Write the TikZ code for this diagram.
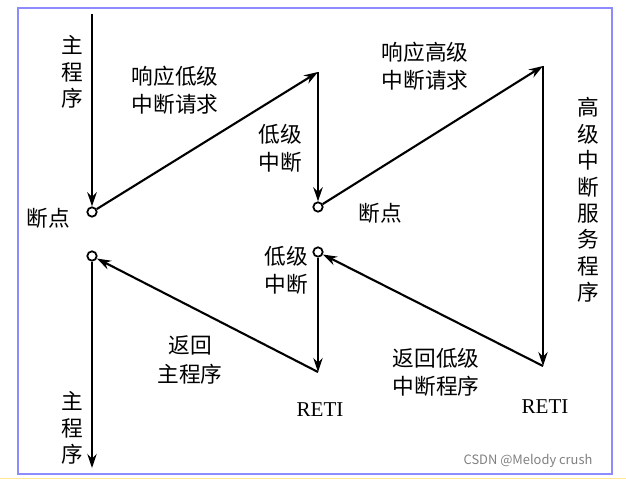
\documentclass[tikz,border=0pt]{standalone}
\usepackage{fontspec}
\setmainfont{Liberation Serif}
\newfontfamily\cjk{Noto Sans CJK SC}
\usetikzlibrary{arrows.meta}

\begin{document}
\begin{tikzpicture}[
    x=0.03cm, y=-0.03cm,
    flow/.style={line width=1.8pt, -{Stealth[length=12pt, width=8pt]}},
    bp/.style={circle, draw, line width=1.5pt, fill=white, inner sep=0pt, minimum size=8pt},
    lbl/.style={font=\cjk\fontsize{18.5}{24}\selectfont, align=center},
    vlbl/.style={font=\cjk\fontsize{18.5}{22.5}\selectfont, align=center}
]
\useasboundingbox (0,0) rectangle (626,481);
\draw[blue!45, line width=1.2pt] (18,8) rectangle (612,474);
\draw[yellow!60!orange!40, line width=0.8pt] (0,478) -- (626,478);

% breakpoints and corners
\node[bp] (b1) at (92,212) {};
\node[bp] (b2) at (92,256) {};
\node[bp] (b3) at (318,207) {};
\node[bp] (b4) at (318,252) {};
\coordinate (top) at (92,14);
\coordinate (c1) at (318,72);
\coordinate (c2) at (543,66);
\coordinate (c3) at (543,366);
\coordinate (c4) at (318,372);
\coordinate (bot) at (92,468);

% Arrows
\draw[flow] (top) -- (b1);
\draw[flow] (b1) -- (c1);
\draw[flow] (c1) -- (b3);
\draw[flow] (b3) -- (c2);
\draw[flow] (c2) -- (c3);
\draw[flow] (c3) -- (b4);
\draw[flow] (b4) -- (c4);
\draw[flow] (c4) -- (b2);
\draw[flow] (b2) -- (bot);

% Labels
\node[vlbl] (lmain1) at (72,72) {主\\程\\序};
\node[vlbl] (lmain2) at (72,428) {主\\程\\序};
\node[lbl] (lreq1) at (175,90) {响应低级\\中断请求};
\node[lbl] (lreq2) at (425,66) {响应高级\\中断请求};
\node[lbl] (llow1) at (280,148) {低级\\中断};
\node[lbl] (llow2) at (286,270) {低级\\中断};
\node[vlbl] (lhigh) at (588,200) {高\\级\\中\\断\\服\\务\\程\\序};
\node[lbl] (lbp1) at (48,218) {断点};
\node[lbl] (lbp2) at (380,213) {断点};
\node[lbl] (lret1) at (190,360) {返回\\主程序};
\node[lbl] (lret2) at (436,372) {返回低级\\中断程序};
\node[font=\fontsize{18}{21}\selectfont] (reti1) at (320,410) {RETI};
\node[font=\fontsize{18}{21}\selectfont] (reti2) at (545,407) {RETI};
\node[font=\cjk\fontsize{11}{13}\selectfont, text=gray] (mark) at (528,461) {CSDN @Melody crush};
\end{tikzpicture}
\end{document}
